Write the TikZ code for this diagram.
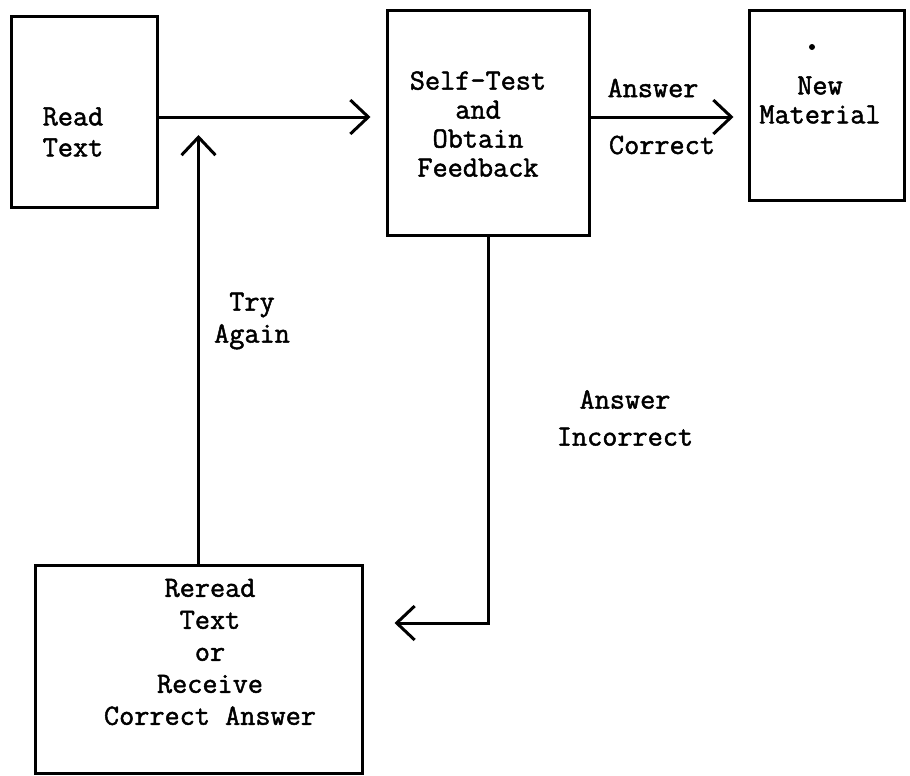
\documentclass[tikz,border=0pt]{standalone}
\usepackage{fontspec}
\setmonofont{Latin Modern Mono}[AutoFakeBold=1.6]
\usetikzlibrary{arrows.meta}
\begin{document}
\begin{tikzpicture}[
    x=0.5pt,y=-0.5pt,
    box/.style={draw,line width=1.5pt,inner sep=0pt},
    txt/.style={align=center,inner sep=0pt,font=\ttfamily\bfseries\fontsize{14.7}{#1}\selectfont},
    txt/.default=12,
    link/.style={->,line width=1.5pt},
    >={Straight Barb[length=9pt,width=17pt]}
]
\useasboundingbox (0,0) rectangle (910,776);

\node[box,minimum width=73pt,minimum height=95.5pt] (read) at (84,111.5) {};
\node[box,minimum width=101pt,minimum height=112.5pt] (test) at (488,122.5) {};
\node[box,minimum width=77.5pt,minimum height=95pt] (newmat) at (826.5,105) {};
\node[box,minimum width=163.5pt,minimum height=104pt] (reread) at (198.5,669) {};

\node[txt=15.5] (readtxt) at (73,132) {Read\\Text};
\node[txt=14.5] (testtxt) at (478,124) {Self-Test\\and\\Obtain\\Feedback};
\node[txt=14.5] (newtxt) at (820,100) {New\\Material};
\node[txt=16] (rereadtxt) at (210,652) {Reread\\Text\\or\\Receive\\Correct Answer};
\fill (812,47) circle (1.5pt);

\node[txt] (ans) at (653,88) {Answer};
\node[txt] (corr) at (662,145) {Correct};
\node[txt=16] (again) at (252,321) {Try\\Again};
\node[txt=18.5] (wrong) at (625,418) {Answer\\Incorrect};

\draw[link,shorten >=7.5pt] (read.east |- 0,117) -- (test.west |- 0,117);
\draw[link,shorten >=7pt] (test.east |- 0,117) -- (newmat.west |- 0,117);
\draw[link,shorten >=15.5pt] (test.south) |- (reread.east |- 0,623);
\draw[link,shorten >=11.75pt] (reread.north) -- (reread.north |- read.east);
\end{tikzpicture}
\end{document}
